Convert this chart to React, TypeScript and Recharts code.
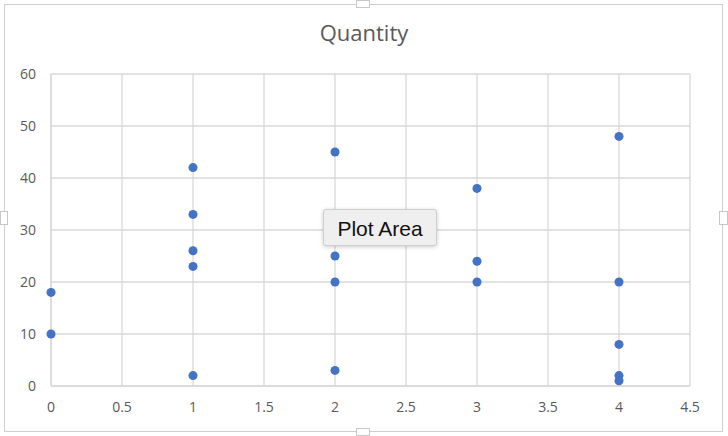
import React from "react";
import { ScatterChart, Scatter, XAxis, YAxis, ZAxis, CartesianGrid } from "recharts";

const xValues = [0, 0, 1, 1, 1, 1, 1, 2, 2, 2, 2, 3, 3, 3, 4, 4, 4, 4, 4];
const quantityValues = [18, 10, 42, 33, 26, 23, 2, 45, 25, 20, 3, 38, 24, 20, 48, 20, 8, 2, 1];
const xTicks = [0, 0.5, 1, 1.5, 2, 2.5, 3, 3.5, 4, 4.5];
const yTicks = [0, 10, 20, 30, 40, 50, 60];
const title = "Quantity";
const tooltipLabel = "Plot Area";

const data = xValues.map((x, i) => ({ x, y: quantityValues[i] }));

const FONT = "'Open Sans', 'Liberation Sans', sans-serif";
const GRID = "#d9d9d9";
const TEXT = "#595959";

const handle = (left: number, top: number, w: number, h: number): React.CSSProperties => ({
  position: "absolute",
  left,
  top,
  width: w,
  height: h,
  background: "#fff",
  border: "1px solid #c8c8c8",
  boxSizing: "border-box",
});

export default function App() {
  return (
    <div style={{ position: "absolute", left: 0, top: 0, width: 728, height: 436, background: "#fff", overflow: "hidden" }}>
      <div
        style={{
          position: "absolute",
          left: 4,
          top: 4,
          width: 719,
          height: 428,
          border: "1px solid #cfcfcf",
          boxSizing: "border-box",
        }}
      />
      <div
        style={{
          position: "absolute",
          left: 0,
          top: 17,
          width: 728,
          textAlign: "center",
          fontFamily: FONT,
          fontSize: 22,
          color: TEXT,
        }}
      >
        {title}
      </div>
      <div style={{ position: "absolute", left: 0, top: 0 }}>
        <ScatterChart width={728} height={436} margin={{ top: 74, right: 38, bottom: 0, left: 0 }}>
          <CartesianGrid stroke={GRID} strokeWidth={1.3} />
          <XAxis
            type="number"
            dataKey="x"
            domain={[0, 4.5]}
            ticks={xTicks}
            interval={0}
            stroke={GRID}
            strokeWidth={1.3}
            tickLine={false}
            tickSize={0}
            tickMargin={16}
            tick={{ fill: TEXT, fontSize: 14, fontFamily: FONT }}
            height={50}
          />
          <YAxis
            type="number"
            dataKey="y"
            domain={[0, 60]}
            ticks={yTicks}
            interval={0}
            stroke={GRID}
            strokeWidth={1.3}
            tickLine={false}
            tickSize={0}
            tickMargin={15}
            tick={{ fill: TEXT, fontSize: 14, fontFamily: FONT }}
            width={51}
          />
          <ZAxis range={[105, 105]} />
          <Scatter data={data} fill="#4472c4" isAnimationActive={false} />
        </ScatterChart>
      </div>
      <div
        style={{
          position: "absolute",
          left: 323,
          top: 209,
          width: 114,
          height: 37,
          background: "#efefef",
          border: "1px solid #cfcfcf",
          borderRadius: 3,
          boxShadow: "0 1px 4px rgba(0,0,0,0.2)",
          boxSizing: "border-box",
          fontFamily: "'Liberation Sans', Arial, sans-serif",
          fontSize: 21,
          color: "#111",
          lineHeight: "37px",
          textAlign: "center",
        }}
      >
        {tooltipLabel}
      </div>
      <div style={handle(356, 0, 14, 8)} />
      <div style={handle(356, 428, 14, 8)} />
      <div style={handle(0, 211, 8, 14)} />
      <div style={handle(719, 211, 9, 14)} />
    </div>
  );
}
